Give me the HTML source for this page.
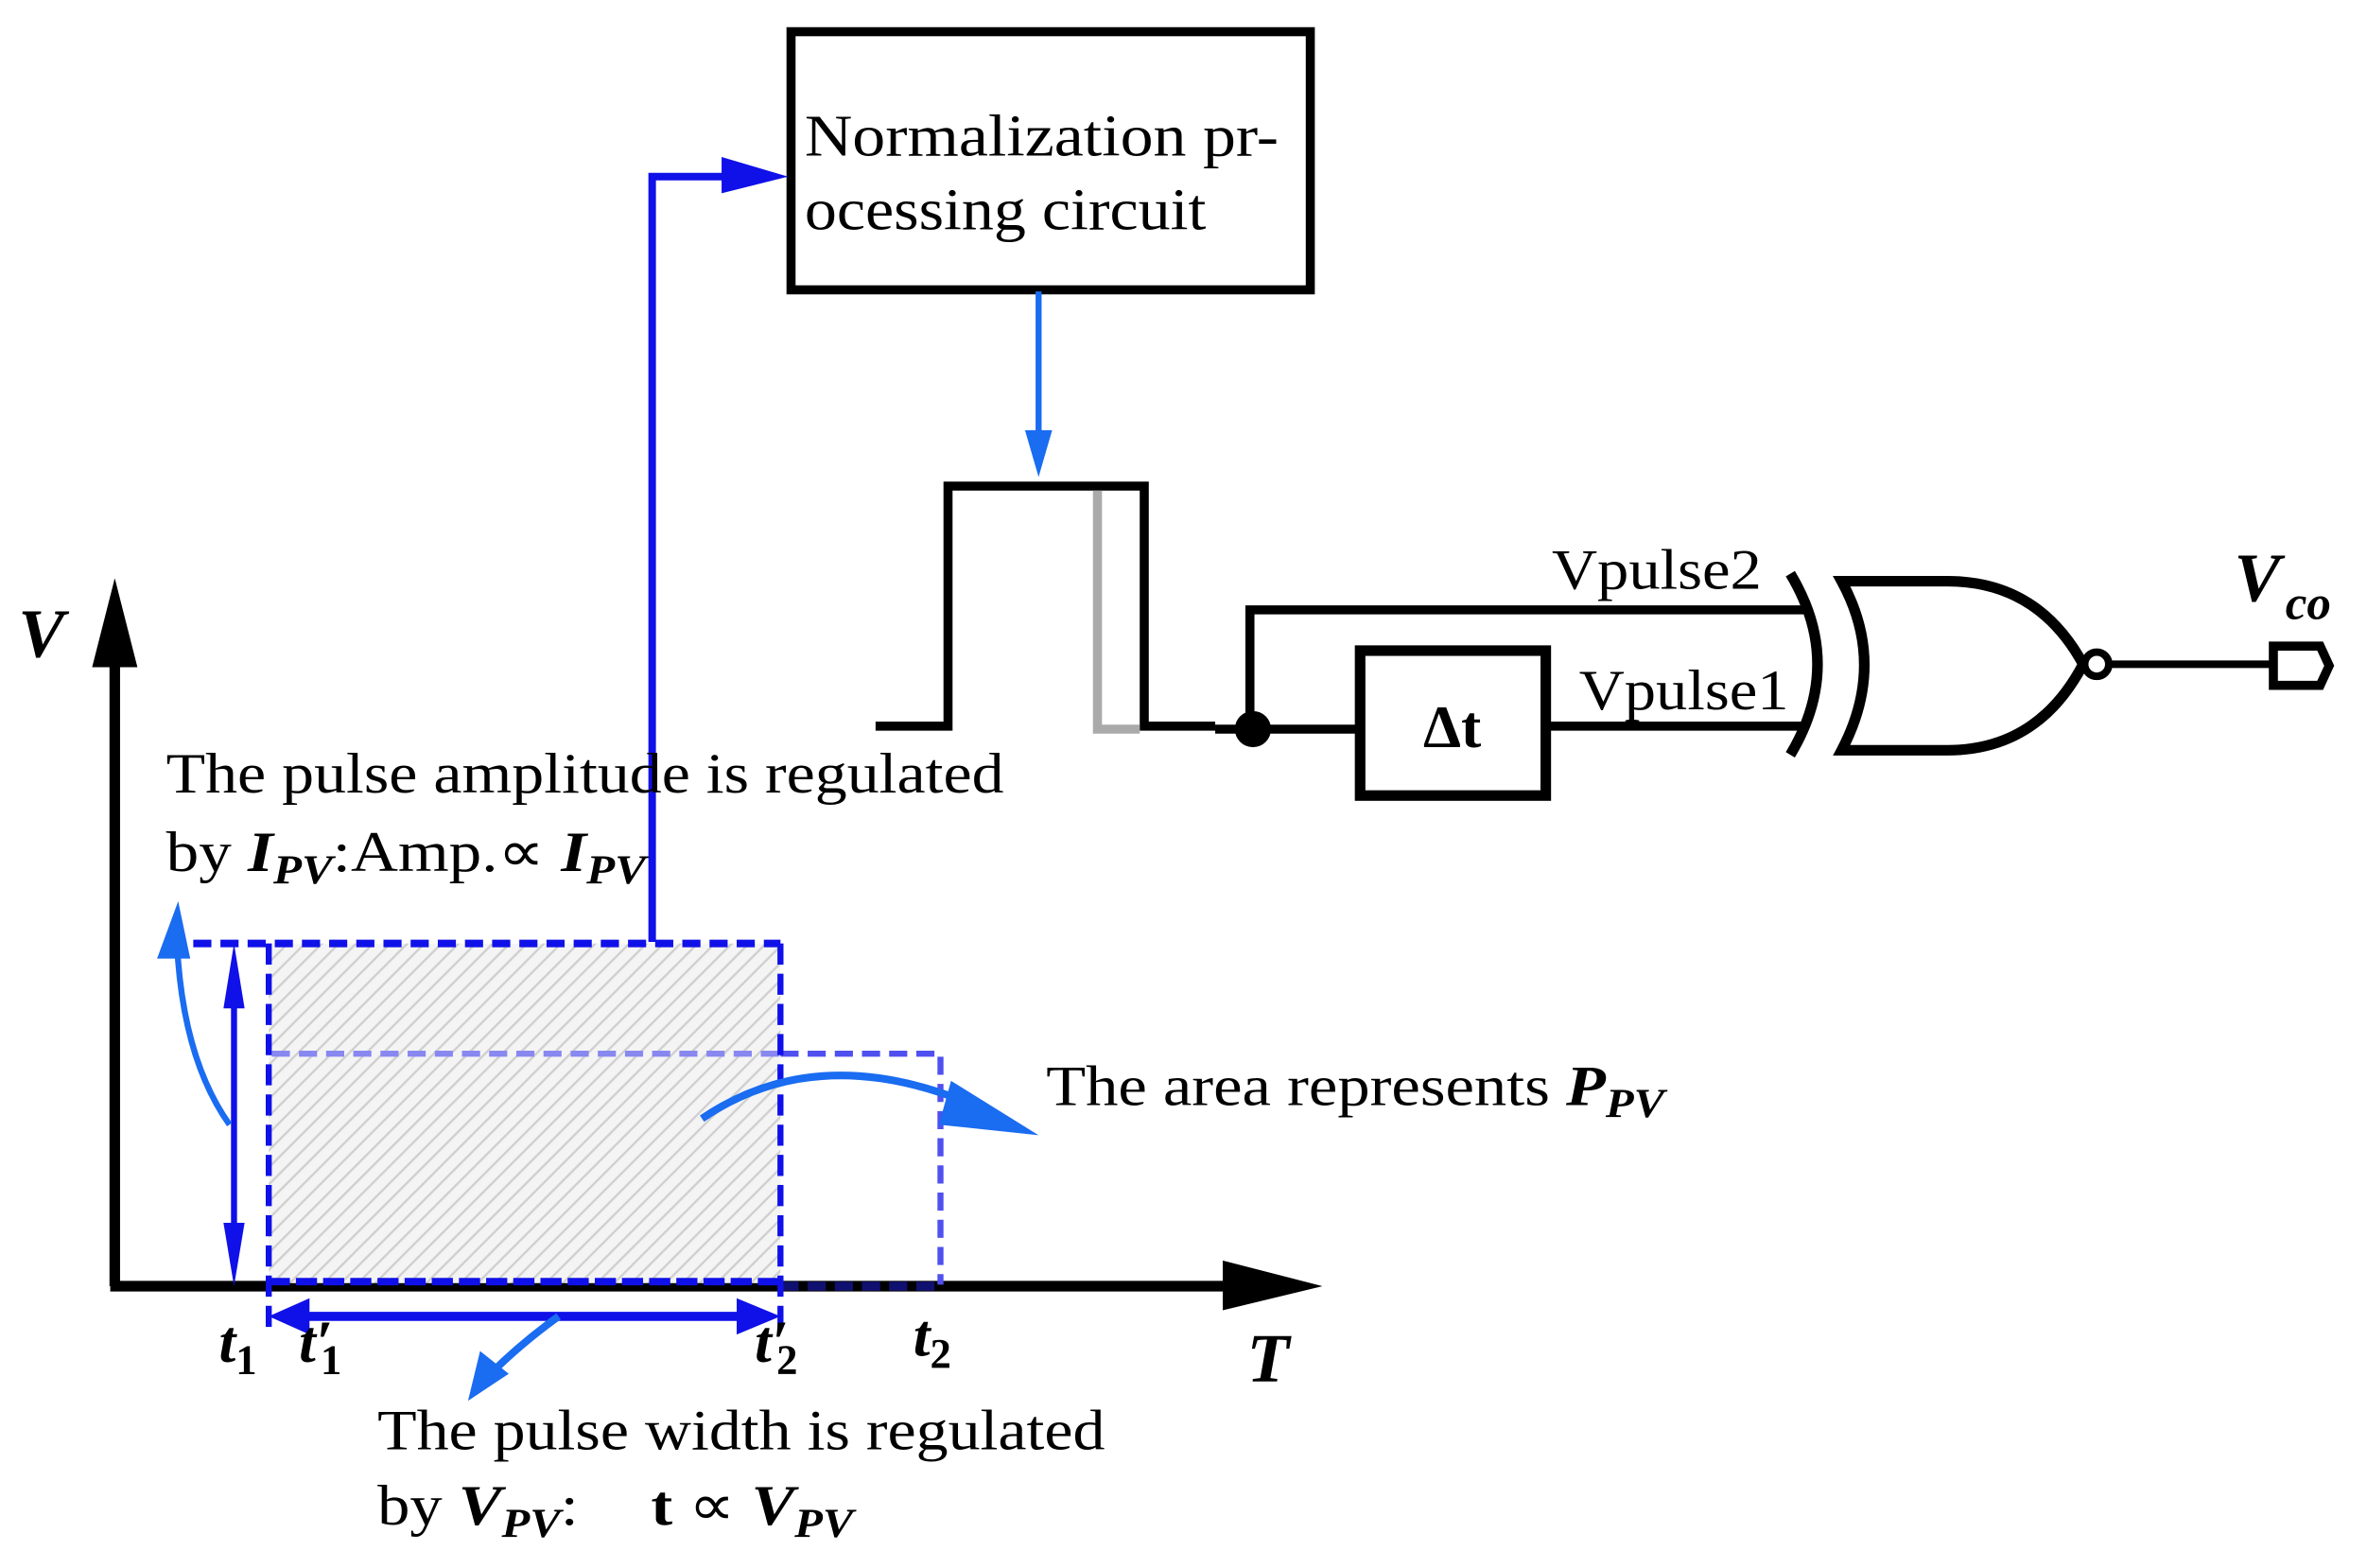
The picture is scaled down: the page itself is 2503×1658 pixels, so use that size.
<!DOCTYPE html>
<html><head><meta charset="utf-8"><style>html,body{margin:0;padding:0;background:#fff}svg{display:block}</style></head>
<body>
<svg width="2503" height="1658" viewBox="0 0 1568 1038.7" xmlns="http://www.w3.org/2000/svg" font-family="Liberation Serif, serif">
<defs>
<pattern id="h" width="8" height="8" patternUnits="userSpaceOnUse" patternTransform="rotate(45)">
<rect width="8" height="8" fill="#f4f4f4"/><line x1="0" y1="0" x2="0" y2="8" stroke="#d0d0d0" stroke-width="3"/>
</pattern>
</defs>
<rect x="524" y="21" width="344" height="171" fill="#fff" stroke="#000" stroke-width="6"/>
<text x="533" y="103" font-size="39" textLength="314" lengthAdjust="spacingAndGlyphs">Normalization  pr-</text>
<text x="533" y="152" font-size="39" textLength="266" lengthAdjust="spacingAndGlyphs">ocessing circuit</text>
<polyline points="432,624 432,117 500,117" fill="none" stroke="#1010e8" stroke-width="5"/>
<polygon points="478,104 522,117 478,128" fill="#1010e8"/>
<line x1="688" y1="193" x2="688" y2="292" stroke="#1a6cf0" stroke-width="4"/>
<polygon points="679,285 697,285 688,316" fill="#1a6cf0"/>
<polyline points="580,481 628,481 628,322 758,322 758,481 805,481" fill="none" stroke="#000" stroke-width="6"/>
<polyline points="727,325 727,483 755,483" fill="none" stroke="#aaa" stroke-width="6"/>
<line x1="805" y1="483" x2="900" y2="483" stroke="#000" stroke-width="6"/>
<circle cx="830" cy="483" r="12" fill="#000"/>
<polyline points="828,483 828,404 1200,404" fill="none" stroke="#000" stroke-width="6"/>
<rect x="901" y="431" width="123" height="96" fill="#fff" stroke="#000" stroke-width="7"/>
<text x="962" y="495" font-size="40" font-weight="bold" text-anchor="middle">Δt</text>
<line x1="1025" y1="481" x2="1198" y2="481" stroke="#000" stroke-width="6"/>
<text x="1028" y="390" font-size="38" textLength="139" lengthAdjust="spacingAndGlyphs">Vpulse2</text>
<text x="1046" y="470" font-size="38" textLength="139" lengthAdjust="spacingAndGlyphs">Vpulse1</text>
<path d="M1186,380 Q1222,440 1186,500" fill="none" stroke="#000" stroke-width="7"/>
<path d="M1220,385 L1290,385 Q1350,385 1380,440 Q1350,497 1290,497 L1220,497 Q1250,440 1220,385 Z" fill="#fff" stroke="#000" stroke-width="7"/>
<circle cx="1389" cy="440" r="8" fill="#fff" stroke="#000" stroke-width="5"/>
<line x1="1397" y1="440" x2="1506" y2="440" stroke="#000" stroke-width="5"/>
<polygon points="1506,428 1537,428 1543,441 1537,454 1506,454" fill="#fff" stroke="#000" stroke-width="6"/>
<text x="1480" y="398" font-size="46" font-style="italic" font-weight="bold">V</text>
<text x="1514" y="410" font-size="32" font-style="italic" font-weight="bold">co</text>
<line x1="76" y1="852" x2="76" y2="430" stroke="#000" stroke-width="7"/>
<polygon points="61,442 91,442 76,383" fill="#000"/>
<line x1="73" y1="852" x2="820" y2="852" stroke="#000" stroke-width="7"/>
<polygon points="810,835 876,852 810,868" fill="#000"/>
<text x="12" y="435" font-size="46" font-style="italic" font-weight="bold">V</text>
<text x="826" y="915" font-size="46" font-style="italic" font-weight="bold">T</text>
<rect x="178" y="625" width="339" height="225" fill="url(#h)"/>
<polyline points="517,698 623,698 623,851" fill="none" stroke="#5050f0" stroke-width="4" stroke-dasharray="12,6"/>
<line x1="180" y1="698" x2="517" y2="698" stroke="#8888f0" stroke-width="4" stroke-dasharray="12,6"/>
<line x1="517" y1="852" x2="623" y2="852" stroke="#101070" stroke-width="6" stroke-dasharray="12,6"/>
<line x1="110" y1="625" x2="517" y2="625" stroke="#1010e8" stroke-width="5" stroke-dasharray="12,6"/>
<line x1="178" y1="625" x2="178" y2="880" stroke="#1010e8" stroke-width="4" stroke-dasharray="14,6"/>
<line x1="517" y1="625" x2="517" y2="880" stroke="#1010e8" stroke-width="4" stroke-dasharray="14,6"/>
<line x1="178" y1="849" x2="517" y2="849" stroke="#1010e8" stroke-width="5" stroke-dasharray="14,4"/>
<line x1="155" y1="650" x2="155" y2="830" stroke="#1010e8" stroke-width="4"/>
<polygon points="148,668 162,668 155,625" fill="#1010e8"/>
<polygon points="148,810 162,810 155,852" fill="#1010e8"/>
<line x1="200" y1="872" x2="495" y2="872" stroke="#1010e8" stroke-width="6"/>
<polygon points="205,860 205,884 178,872" fill="#1010e8"/>
<polygon points="488,860 488,884 517,872" fill="#1010e8"/>
<path d="M152,745 Q120,700 117,620" fill="none" stroke="#1a6cf0" stroke-width="4"/>
<polygon points="104,635 126,635 118,597" fill="#1a6cf0"/>
<path d="M370,872 Q345,890 325,910" fill="none" stroke="#1a6cf0" stroke-width="5"/>
<polygon points="310,928 318,895 337,910" fill="#1a6cf0"/>
<path d="M465,741 Q540,690 640,730" fill="none" stroke="#1a6cf0" stroke-width="5"/>
<polygon points="630,716 688,752 622,745" fill="#1a6cf0"/>
<g font-style="italic" font-weight="bold" font-size="40">
<text x="145" y="902">t<tspan font-size="28" dy="8" font-style="normal">1</tspan></text>
<text x="198" y="902">t′<tspan font-size="28" dy="8" dx="-8" font-style="normal">1</tspan></text>
<text x="500" y="902">t′<tspan font-size="28" dy="8" dx="-8" font-style="normal">2</tspan></text>
<text x="605" y="898">t<tspan font-size="28" dy="8" font-style="normal">2</tspan></text>
</g>
<text x="110" y="525" font-size="38" textLength="555" lengthAdjust="spacingAndGlyphs">The pulse amplitude is regulated</text>
<g transform="translate(110,0) scale(1.14,1) translate(-110,0)">
<text x="110" y="577" font-size="38">by <tspan font-style="italic" font-weight="bold">I</tspan><tspan font-style="italic" font-weight="bold" font-size="27" dy="8">PV</tspan><tspan dy="-8">:Amp.∝ </tspan><tspan font-style="italic" font-weight="bold">I</tspan><tspan font-style="italic" font-weight="bold" font-size="27" dy="8">PV</tspan></text>
</g>
<g transform="translate(693,0) scale(1.13,1) translate(-693,0)">
<text x="693" y="732" font-size="38">The area represents <tspan font-style="italic" font-weight="bold">P</tspan><tspan font-style="italic" font-weight="bold" font-size="27" dy="8">PV</tspan></text>
</g>
<text x="250" y="960" font-size="38" textLength="482" lengthAdjust="spacingAndGlyphs">The pulse width is regulated</text>
<g transform="translate(250,0) scale(1.13,1) translate(-250,0)">
<text x="250" y="1010" font-size="38">by <tspan font-style="italic" font-weight="bold">V</tspan><tspan font-style="italic" font-weight="bold" font-size="27" dy="8">PV</tspan><tspan dy="-8" xml:space="preserve">:   </tspan><tspan font-weight="bold" dx="14">t</tspan> ∝ <tspan font-style="italic" font-weight="bold">V</tspan><tspan font-style="italic" font-weight="bold" font-size="27" dy="8">PV</tspan></text>
</g>
</svg>
</body></html>
